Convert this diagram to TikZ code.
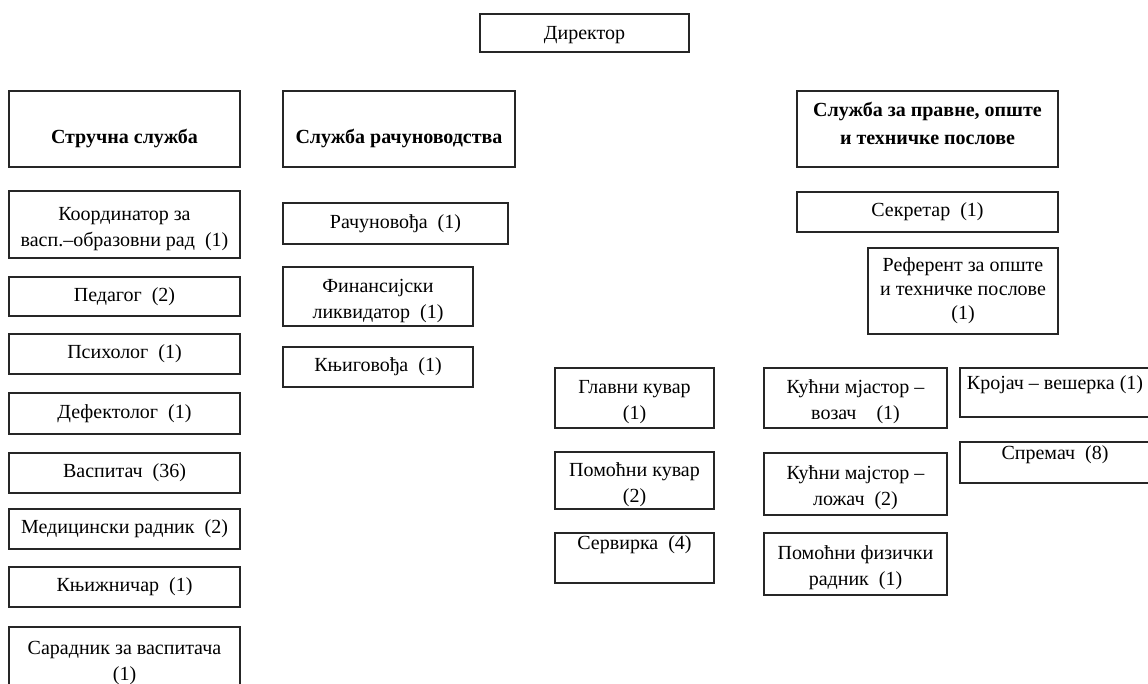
\documentclass[tikz,border=0pt]{standalone}
\usepackage{fontspec}
\setmainfont{Liberation Serif}
\newcommand{\spusti}{\rule{0pt}{16.5pt}}
\tikzset{
  kutija/.style={draw=black!85, line width=0.9pt, inner sep=0pt, align=center,
    font=\fontsize{15}{19.5}\selectfont},
  sluzba/.style={kutija, font=\fontsize{15}{21}\selectfont\bfseries},
  polje/.style n args={4}{minimum width={(#3-#1)*0.75pt}, minimum height={(#4-#2)*0.75pt},
    at={({(#1+#3)/2},{(#2+#4)/2})}}
}
\begin{document}
\begin{tikzpicture}[x=0.75pt,y=-0.75pt]
  \useasboundingbox (0,0) rectangle (1148,684);
  % Директор
  \node[kutija, text height=13.5pt, polje={480}{14}{689}{52}] (direktor) {Директор};
  % Службе
  \node[sluzba, text height=26pt, text depth=3.5pt, polje={9}{91}{240}{167}] (strucna) {Стручна служба};
  \node[sluzba, text height=26pt, text depth=3.5pt, polje={283}{91}{515}{167}] (racunovodstvo) {Служба рачуноводства};
  \node[sluzba, polje={797}{91}{1058}{167}] (pravne) {Служба за правне, опште\\и техничке послове\rule[-9pt]{0pt}{9pt}};
  % Стручна служба
  \node[kutija, polje={9}{191}{240}{258}] (koordinator) {\spusti Координатор за\\васп.–образовни рад~ (1)};
  \foreach \n/\ya/\yb/\t in {pedagog/277/316/{Педагог~ (2)}, psiholog/334/374/{Психолог~ (1)},
      defektolog/393/434/{Дефектолог~ (1)}, vaspitac/453/493/{Васпитач~ (36)},
      medicinski/509/549/{Медицински радник~ (2)}, knjiznicar/567/607/{Књижничар~ (1)}} {
    \node[kutija, polje={9}{\ya}{240}{\yb}] (\n) {\t};
  }
  \node[kutija, polje={9}{627}{240}{690}] (saradnik) {\spusti Сарадник за васпитача\\(1)};
  % Служба рачуноводства
  \node[kutija, polje={283}{203}{508}{244}] (racunovodja) {Рачуновођа~ (1)};
  \node[kutija, polje={283}{267}{473}{326}] (finansijski) {\spusti Финансијски\\ликвидатор~ (1)};
  \node[kutija, polje={283}{347}{473}{387}] (knjigovodja) {Књиговођа~ (1)};
  % Правни, општи и технички послови
  \node[kutija, polje={797}{192}{1058}{232}] (sekretar) {Секретар~ (1)};
  \node[kutija, polje={868}{248}{1058}{334}] (referent) {Референт за опште\\[-1.5pt]и техничке послове\\[-1.5pt](1)};
  \node[kutija, polje={555}{368}{714}{428}] (glavni) {\spusti Главни кувар\\(1)};
  \node[kutija, polje={555}{452}{714}{509}] (pomocni) {\spusti Помоћни кувар\\(2)};
  \node[kutija, text height=10.5pt, text depth=22.8pt, polje={555}{533}{714}{583}] (servirka) {Сервирка~ (4)};
  \node[kutija, polje={764}{368}{947}{428}] (vozac) {\spusti Кућни мјастор –\\возач~ ~ (1)};
  \node[kutija, polje={764}{453}{947}{515}] (lozac) {\spusti Кућни мајстор –\\ложач~ (2)};
  \node[kutija, polje={764}{533}{947}{595}] (fizicki) {\spusti Помоћни физички\\радник~ (1)};
  \node[kutija, text height=10.5pt, text depth=14.5pt, polje={960}{368}{1150}{417}] (krojac) {Кројач – вешерка (1)};
  \node[kutija, text height=10.5pt, text depth=14.5pt, polje={960}{442}{1150}{483}] (spremac) {Спремач~ (8)};
\end{tikzpicture}
\end{document}
